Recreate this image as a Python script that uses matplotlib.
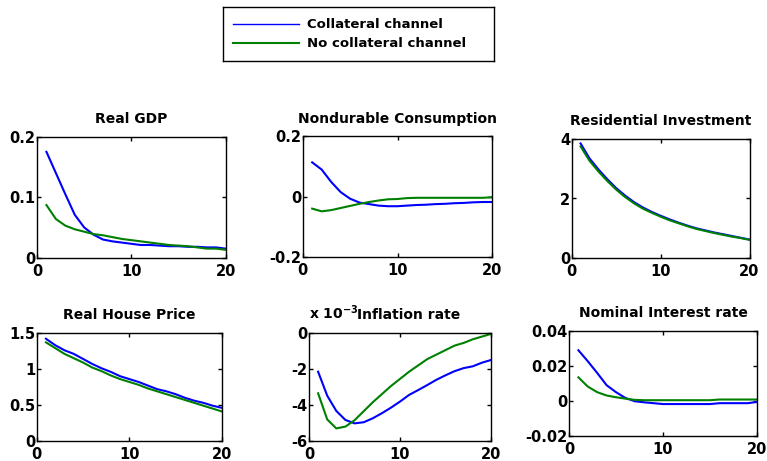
import numpy as np
import matplotlib
matplotlib.use("Agg")
from matplotlib import pyplot as plt
from matplotlib.lines import Line2D
from matplotlib.ticker import FormatStrFormatter

plt.rcParams['font.family'] = ['DejaVu Sans']
plt.rcParams['font.weight'] = 'bold'
plt.rcParams['axes.unicode_minus'] = False
plt.rcParams['mathtext.default'] = 'bf'

W, H = 767, 461

periods = np.arange(1, 21)
series_names = ["Collateral channel", "No collateral channel"]

gdp_coll = [0.175, 0.140, 0.105, 0.071, 0.050, 0.038, 0.030, 0.027, 0.025, 0.023,
            0.021, 0.021, 0.020, 0.019, 0.019, 0.018, 0.018, 0.017, 0.017, 0.015]
gdp_nocoll = [0.087, 0.064, 0.053, 0.047, 0.043, 0.039, 0.037, 0.034, 0.031, 0.029,
              0.027, 0.025, 0.023, 0.021, 0.020, 0.019, 0.017, 0.015, 0.015, 0.013]

cons_coll = [0.114, 0.090, 0.049, 0.015, -0.007, -0.020, -0.025, -0.030, -0.032, -0.032,
             -0.030, -0.028, -0.027, -0.025, -0.024, -0.022, -0.021, -0.019, -0.018, -0.018]
cons_nocoll = [-0.040, -0.049, -0.045, -0.038, -0.031, -0.024, -0.018, -0.013, -0.009, -0.008,
               -0.005, -0.004, -0.004, -0.004, -0.004, -0.004, -0.004, -0.004, -0.004, -0.002]

resinv_coll = [3.85, 3.35, 2.98, 2.65, 2.35, 2.10, 1.88, 1.70, 1.55, 1.42,
               1.30, 1.19, 1.09, 1.00, 0.93, 0.86, 0.80, 0.74, 0.68, 0.62]
resinv_nocoll = [3.75, 3.27, 2.91, 2.59, 2.30, 2.05, 1.84, 1.66, 1.52, 1.39,
                 1.27, 1.17, 1.07, 0.98, 0.91, 0.84, 0.78, 0.72, 0.67, 0.61]

hprice_coll = [1.42, 1.33, 1.26, 1.21, 1.14, 1.07, 1.01, 0.96, 0.90, 0.86,
               0.82, 0.77, 0.72, 0.69, 0.65, 0.60, 0.56, 0.53, 0.49, 0.46]
hprice_nocoll = [1.37, 1.29, 1.21, 1.15, 1.09, 1.02, 0.97, 0.91, 0.86, 0.82,
                 0.78, 0.73, 0.69, 0.65, 0.61, 0.57, 0.53, 0.49, 0.45, 0.41]

# inflation in units of 1e-3
infl_coll = [-2.15, -3.48, -4.33, -4.83, -5.02, -4.96, -4.74, -4.46, -4.15, -3.81,
             -3.44, -3.17, -2.89, -2.60, -2.35, -2.12, -1.95, -1.85, -1.65, -1.50]
infl_nocoll = [-3.35, -4.80, -5.30, -5.20, -4.85, -4.35, -3.85, -3.40, -2.95, -2.55,
               -2.15, -1.80, -1.45, -1.20, -0.95, -0.70, -0.55, -0.35, -0.20, -0.05]

rate_coll = [0.0288, 0.0225, 0.0158, 0.0088, 0.0048, 0.0015, -0.0004, -0.0010, -0.0015, -0.0020,
             -0.0020, -0.0020, -0.0020, -0.0020, -0.0020, -0.0015, -0.0015, -0.0015, -0.0015, -0.0008]
rate_nocoll = [0.0133, 0.0080, 0.0048, 0.0029, 0.0019, 0.0011, 0.0004, 0.0002, 0.0002, 0.0002,
               0.0002, 0.0002, 0.0002, 0.0002, 0.0002, 0.0006, 0.0006, 0.0006, 0.0006, 0.0006]

titles = ["Real GDP", "Nondurable Consumption", "Residential Investment",
          "Real House Price", "Inflation rate", "Nominal Interest rate"]
data = [(gdp_coll, gdp_nocoll), (cons_coll, cons_nocoll), (resinv_coll, resinv_nocoll),
        (hprice_coll, hprice_nocoll), (infl_coll, infl_nocoll), (rate_coll, rate_nocoll)]
ylims = [(0, 0.2), (-0.2, 0.2), (0, 4), (0, 1.5), (-6, 0), (-0.02, 0.04)]
yticks = [[0, 0.1, 0.2], [-0.2, 0, 0.2], [0, 2, 4], [0, 0.5, 1, 1.5],
          [-6, -4, -2, 0], [-0.02, 0, 0.02, 0.04]]

# pixel boxes: left, right, top, bottom
boxes = [(37, 225.7, 136.7, 257.7), (302.7, 492.3, 136.5, 256.7), (571.7, 749.5, 139, 258),
         (36.7, 222, 333, 441), (309, 491, 333, 441), (569, 757, 330.7, 435.5)]

colors = ['#0000ff', '#008000']

fig = plt.figure(figsize=(W / 100, H / 100), dpi=100)

for i in range(6):
    l, r, t, b = boxes[i]
    ax = fig.add_axes([l / W, 1 - b / H, (r - l) / W, (b - t) / H])
    for s in range(2):
        ax.plot(periods, data[i][s], color=colors[s], lw=1.5)
    ax.set_xlim(0, 20)
    ax.set_ylim(*ylims[i])
    ax.set_xticks([0, 10, 20])
    ax.set_yticks(yticks[i])
    ax.yaxis.set_major_formatter(FormatStrFormatter('%g'))
    ax.tick_params(direction='in', top=True, right=True, length=3, width=1,
                   labelsize=10.5)
    ax.tick_params(axis='x', pad=4.5)
    ax.tick_params(axis='y', pad=1)
    for sp in ax.spines.values():
        sp.set_linewidth(1.0)
    if i == 4:
        ax.set_title(titles[i], fontsize=10, fontweight='bold', pad=10, x=0.55)
        ax.text(0.0, 1.0, r'x 10$^{-3}$', transform=ax.transAxes,
                fontsize=10, fontweight='bold', va='baseline', ha='left')
        ax.texts[-1].set_y(1.0 + 14 / (b - t))
    else:
        ax.set_title(titles[i], fontsize=10, fontweight='bold', pad=10)

# legend box
lg = fig.add_axes([222.7 / W, 1 - 61 / H, 271.3 / W, 53.7 / H])
lg.set_xticks([])
lg.set_yticks([])
for sp in lg.spines.values():
    sp.set_linewidth(1.0)
handles = [Line2D([], [], color=colors[0], lw=1.0),
           Line2D([], [], color=colors[1], lw=1.5)]
lg.legend(handles, series_names, loc='center left', frameon=False,
          prop={'weight': 'bold', 'size': 9.5}, handlelength=5.0,
          handletextpad=0.6, borderaxespad=0.4, labelspacing=0.45)

fig.savefig("out.png", dpi=100)
